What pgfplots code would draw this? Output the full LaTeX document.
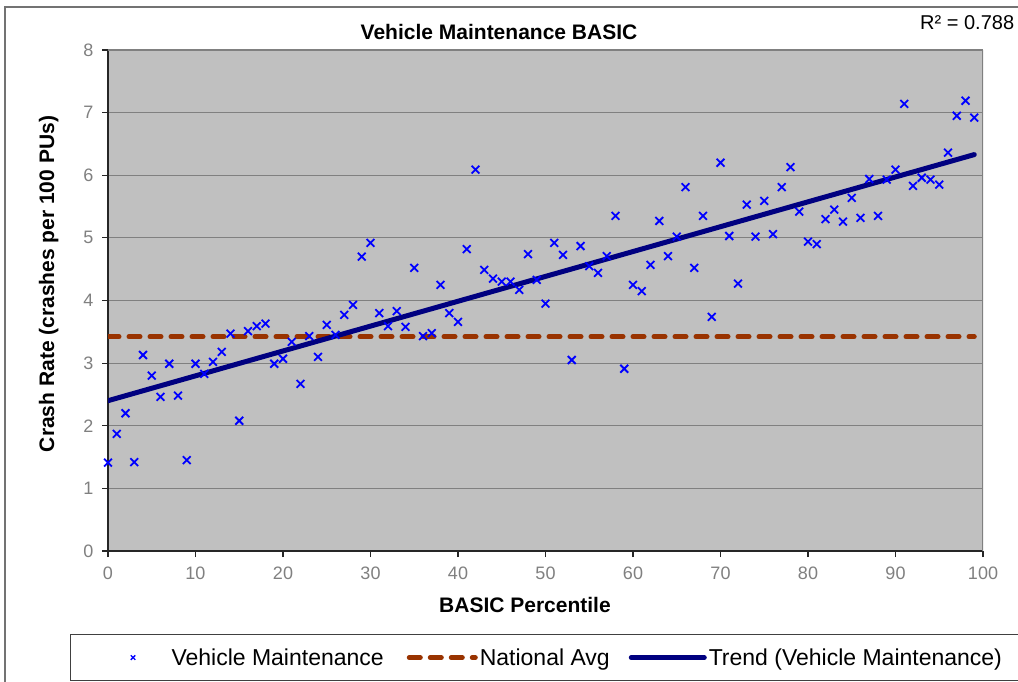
\documentclass[border=0pt]{standalone}
\usepackage{fontspec}
\setmainfont{Liberation Sans}
\usepackage{pgfplots}
\usepackage{pgfplotstable}
\pgfplotsset{compat=1.18}
\definecolor{plotbg}{RGB}{192,192,192}
\definecolor{navavg}{RGB}{153,51,0}
\definecolor{trendblue}{RGB}{0,0,128}
\definecolor{tickgray}{RGB}{128,128,128}

\pgfplotsset{
  legmark/.style={legend image code/.code={%
    \path[draw=none,fill=none] (0pt,-1pt) rectangle (73pt,1pt);
    \draw[mark repeat=2,mark phase=2,##1,mark size=3.2pt,line width=1.3pt]
      plot coordinates {(0pt,0pt) (36.5pt,0pt) (73pt,0pt)};}},
  legline/.style={legend image code/.code={\draw[##1] (0pt,0pt) -- (#1,0pt);}},
}

% BASIC percentile vs crash rate
\pgfplotstableread{
x y
0 1.41
1 1.87
2 2.20
3 1.42
4 3.13
5 2.80
6 2.46
7 2.99
8 2.48
9 1.45
10 2.99
11 2.83
12 3.02
13 3.18
14 3.47
15 2.08
16 3.51
17 3.59
18 3.63
19 2.99
20 3.07
21 3.34
22 2.67
23 3.43
24 3.10
25 3.61
26 3.45
27 3.77
28 3.93
29 4.70
30 4.92
31 3.80
32 3.59
33 3.83
34 3.58
35 4.52
36 3.43
37 3.48
38 4.25
39 3.80
40 3.66
41 4.82
42 6.09
43 4.49
44 4.35
45 4.30
46 4.30
47 4.17
48 4.74
49 4.33
50 3.95
51 4.92
52 4.73
53 3.05
54 4.87
55 4.55
56 4.44
57 4.71
58 5.35
59 2.91
60 4.25
61 4.15
62 4.57
63 5.27
64 4.71
65 5.02
66 5.81
67 4.52
68 5.35
69 3.74
70 6.20
71 5.03
72 4.27
73 5.53
74 5.02
75 5.59
76 5.06
77 5.81
78 6.13
79 5.42
80 4.94
81 4.90
82 5.30
83 5.45
84 5.26
85 5.64
86 5.32
87 5.94
88 5.35
89 5.93
90 6.09
91 7.14
92 5.83
93 5.96
94 5.93
95 5.85
96 6.36
97 6.95
98 7.19
99 6.92
}\vmdata

\begin{document}
\begin{tikzpicture}
\useasboundingbox (0,0) rectangle (1018pt,681pt);
\fill[white] (0,0) rectangle (1018pt,681pt);
\draw[black!55, line width=1.2pt] (5pt,-5pt) -- (5pt,674pt) -- (1030pt,674pt);

\begin{axis}[
  at={(108pt,130pt)}, anchor=south west,
  scale only axis, width=875pt, height=501pt,
  xmin=0, xmax=100, ymin=0, ymax=8,
  xtick={0,10,...,100}, ytick={0,1,...,8},
  axis x line*=bottom, axis y line*=left,
  axis line style={-, black!85, line width=1.6pt},
  tick align=outside, major tick length=6pt,
  tick style={black!85, line width=1.2pt},
  ymajorgrids, grid style={tickgray, line width=1.2pt},
  axis background/.style={fill=plotbg},
  ticklabel style={font=\fontsize{18}{20}\selectfont, text=tickgray},
  xticklabel style={yshift=-6pt},
  yticklabel style={xshift=-5pt},
  /pgf/number format/assume math mode=true,
  legend columns=3,
  legend style={at={(-0.0434,-0.1657)}, anchor=north west,
    draw=black!75, line width=1pt, inner xsep=26pt, inner ysep=12pt,
    font=\fontsize{23}{26}\selectfont,
    /tikz/column 2/.style={column sep=21pt},
    /tikz/column 4/.style={column sep=17pt}},
]
\draw[tickgray, line width=1.6pt] (rel axis cs:0,1) -- (rel axis cs:1,1) -- (rel axis cs:1,0);

\addplot[only marks, mark=x, mark size=5.5pt, blue, line width=1.8pt, legmark]
  table[x=x, y=y] {\vmdata};
\addlegendentry{Vehicle Maintenance}

\addplot[navavg, line width=5pt, line cap=round, dash pattern=on 11pt off 10pt, legline=66pt]
  coordinates {(0,3.42) (99,3.42)};
\addlegendentry{National Avg}

\addplot[trendblue, line width=5pt, line cap=round, legline=73pt]
  coordinates {(0,2.40) (99,6.33)};
\addlegendentry{Trend (Vehicle Maintenance)}
\end{axis}

\node[anchor=base, font=\fontsize{21}{24}\selectfont\bfseries] at (499pt,641pt) {Vehicle Maintenance BASIC};
\node[anchor=base west, font=\fontsize{20}{24}\selectfont, inner sep=0pt] at (920pt,651pt) {R² = 0.788};
\node[anchor=base, rotate=90, font=\fontsize{21}{24}\selectfont\bfseries] at (54pt,397pt) {Crash Rate (crashes per 100 PUs)};
\node[anchor=base, font=\fontsize{21}{24}\selectfont\bfseries] at (525pt,69pt) {BASIC Percentile};
\end{tikzpicture}
\end{document}
